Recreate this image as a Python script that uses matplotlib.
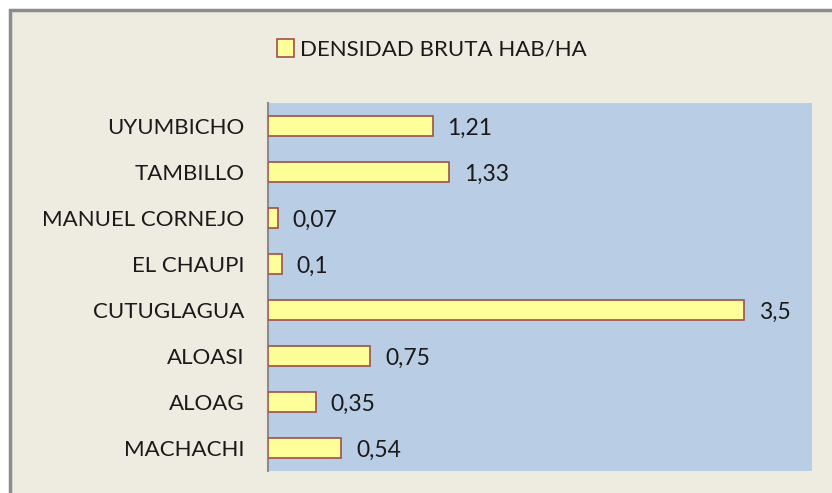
import matplotlib.pyplot as plt
from matplotlib.patches import Rectangle

categories = ["MACHACHI", "ALOAG", "ALOASI", "CUTUGLAGUA", "EL CHAUPI",
              "MANUEL CORNEJO", "TAMBILLO", "UYUMBICHO"]
values = [0.54, 0.35, 0.75, 3.5, 0.1, 0.07, 1.33, 1.21]
series_name = "DENSIDAD BRUTA HAB/HA"

W, H = 832, 493
fig = plt.figure(figsize=(W / 100, H / 100), dpi=100, facecolor="white")
plt.rcParams['font.family'] = ['Lato', 'DejaVu Sans']

# chart area frame (right and bottom edges run off the picture)
fig.patches.append(Rectangle((10 / W, -0.05), 1.1, 1.05 - 10 / H, transform=fig.transFigure,
                             facecolor="#EEECE1", edgecolor="#8C8C8C", linewidth=2.5,
                             zorder=-10))

ax = fig.add_axes([268 / W, 1 - 471 / H, (812 - 268) / W, (471 - 103) / H])
ax.set_facecolor("#B9CDE5")

ypos = range(len(categories))
ax.barh(ypos, values, height=0.42, color="#FFFF99", edgecolor="#A0504A",
        linewidth=1.2, label=series_name, zorder=3)
for y, v in zip(ypos, values):
    ax.text(v + 0.11, y - 0.05, f"{v:g}".replace(".", ","), va="center", ha="left",
            fontsize=16.5, color="#1a1a1a")

ax.set_xlim(0, 4)
ax.set_ylim(-0.5, len(categories) - 0.5)
ax.set_yticks(list(ypos))
ax.set_yticklabels(categories, fontsize=16, color="#1a1a1a")
ax.tick_params(axis="y", length=0, pad=17)
ax.set_xticks([])
for s in ["top", "right", "bottom"]:
    ax.spines[s].set_visible(False)
ax.spines["left"].set_color("#8C8C8C")
ax.spines["left"].set_linewidth(1.5)

fig.legend(loc="center", bbox_to_anchor=(432 / W, 1 - 49 / H), frameon=False,
           fontsize=16, handlelength=0.75, handleheight=0.9, handletextpad=0.3,
           labelcolor="#1a1a1a")

fig.savefig("out.png", dpi=100, facecolor=fig.get_facecolor())
